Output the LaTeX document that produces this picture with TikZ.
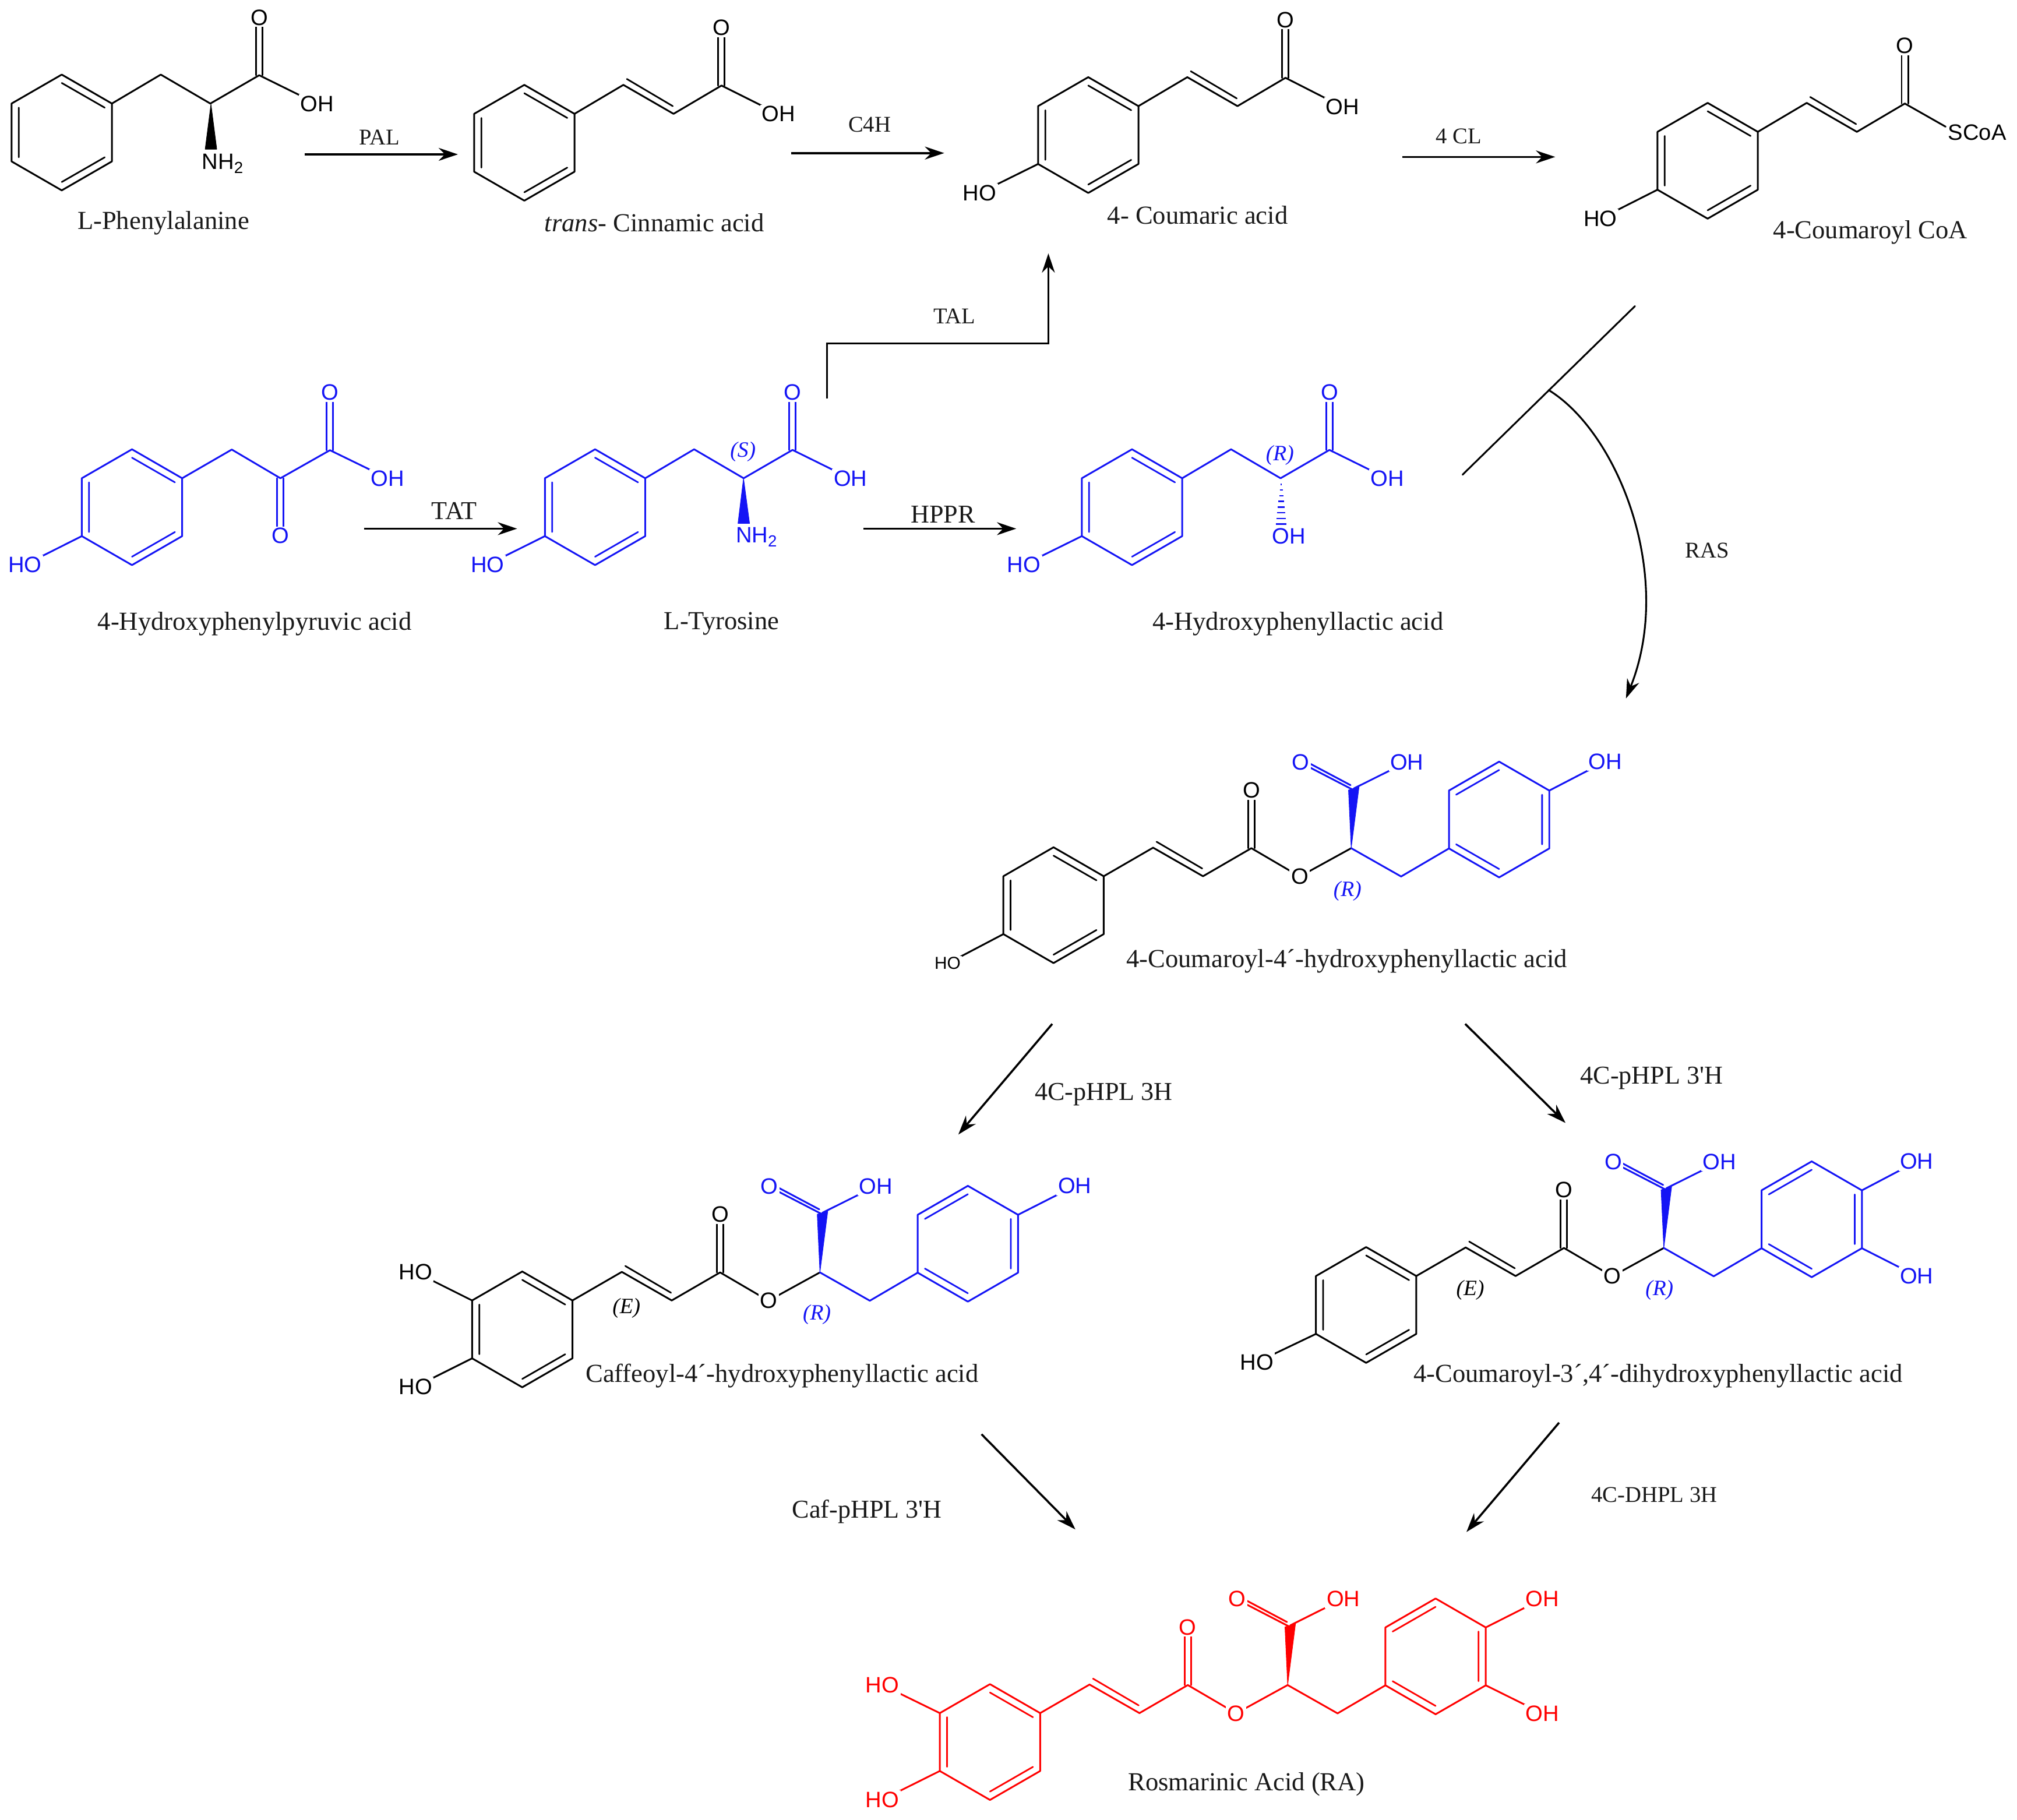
\documentclass[tikz,border=0pt]{standalone}
\usepackage{fontspec}
\setmainfont{Liberation Serif}
\newfontfamily\atomfont{Liberation Sans}
\usetikzlibrary{arrows.meta}
\definecolor{mblue}{RGB}{20,20,245}
\definecolor{mred}{RGB}{255,0,0}
\tikzset{
  bond/.style={line width=1.35pt,line cap=round,line join=round},
  wedgefill/.style={line width=0.4pt,line join=round},
  atom/.style={font=\atomfont\fontsize{17.3}{20}\selectfont,inner sep=1.2pt,fill=white},
  lab/.style={font=\fontsize{20.2}{24}\selectfont,inner sep=0pt,text=black!90,yshift=-1.8pt},
  enz/.style={font=\fontsize{17.5}{20}\selectfont,inner sep=0pt,text=black!90},
  enzb/.style={font=\fontsize{20}{24}\selectfont,inner sep=0pt,text=black!90},
  stereo/.style={font=\itshape\fontsize{17}{19}\selectfont,inner sep=0pt},
  rxn/.style={line width=1.6pt,-{Stealth[length=15pt,width=10pt]}}
}
% benzene ring: centre, flip (1 or -1), colour
\newcommand\benz[4]{%
  \begin{scope}[shift={(#1,#2)},xscale=#3]
    \draw[bond,#4] (0,-45)--(39,-22.5)--(39,22.5)--(0,45)--(-39,22.5)--(-39,-22.5)--cycle;
    \draw[bond,line width=1.25pt,#4] (0,-38.5)--(33.4,-19.3) (-33.4,-19.3)--(-33.4,19.3) (33.4,19.3)--(0,38.5);
  \end{scope}}
% substituent: name, colour, from, to, text
\newcommand\subst[5]{\draw[bond,#2] #3 -- #4; \node[atom,text=#2] (#1) at #4 {#5};}
\newcommand\vdbl[5]{% name colour (x) (y C) (y O)
  \draw[bond,#2] (#3-2.5,#4)--(#3-2.5,#5) (#3+2.5,#4)--(#3+2.5,#5);
  \node[atom,text=#2] (#1) at (#3,#5) {O};}
% phenyl-CH2-CH-COOH
\newcommand\phechain[4]{%
  \benz{#2}{#3}{1}{#4}
  \begin{scope}[shift={(#2,#3)}]
    \draw[bond,#4] (39,-22.5)--(77,-45)--(115.5,-22.5)--(153.5,-44.5);
    \vdbl{#1O}{#4}{153.5}{-44.5}{-89.3}
    \subst{#1OH}{#4}{(153.5,-44.5)}{(198.5,-22.3)}{OH}
  \end{scope}}
% Ar-CH=CH-C(=O)
\newcommand\cinnchain[3]{%
  \benz{#2}{#3}{1}{black}
  \begin{scope}[shift={(#2,#3)}]
    \draw[bond] (39,-22.5)--(77,-45)--(116,-22.5)--(153.3,-44.5);
    \draw[bond,line width=1.25pt] (79.7,-49.6)--(115.4,-28.5);
    \vdbl{#1O}{black}{153.3}{-44.5}{-89.5}
  \end{scope}}
% depside skeleton: prefix, cx, cy, left colour, right colour
\newcommand\depside[5]{%
  \benz{#2}{#3}{1}{#4}
  \benz{#2+346.4}{#3-66.6}{-1}{#5}
  \begin{scope}[shift={(#2,#3)}]
    \draw[bond,#4] (39,-22.5)--(77.4,-44.7)--(116.2,-22.5)--(153.8,-44.3)--(191.4,-22.3)--(231.4,-44.3);
    \draw[bond,line width=1.25pt,#4] (80.1,-49.3)--(115.6,-28.5);
    \vdbl{#1O}{#4}{153.8}{-44.3}{-89.3}
    \node[atom,text=#4] (#1Oe) at (191.4,-22.3) {O};
    \draw[bond,#5] (231.4,-44.3)--(270.2,-22.3)--(307.4,-44.1);
    \fill[wedgefill,#5,draw=#5] (231.4,-44.3)--(229.3,-89.5)--(237.5,-92)--cycle;
    \draw[bond,#5] (230.9,-93.3)--(192.1,-113.9) (234.9,-88.6)--(196.1,-108.7);
    \node[atom,text=#5] (#1Oa) at (192.1,-111.3) {O};
    \subst{#1OH}{#5}{(233.4,-90.7)}{(274.7,-111.3)}{OH}
  \end{scope}}
\begin{document}
\begin{tikzpicture}[x=1pt,y=-1pt]
\useasboundingbox (0,0) rectangle (1568,1414.9);
\fill[white] (0,0) rectangle (1568,1414.9);

%% L-Phenylalanine
\phechain{phe}{48}{103}{black}
\fill[wedgefill,draw=black,black] (164,81)--(159.5,116)--(168.5,116)--cycle;
\node[atom] (pheN) at (173,127) {NH\raisebox{-0.35ex}{\fontsize{12.5}{14}\selectfont 2}};
\node[lab] (pheL) at (127,171.5) {L-Phenylalanine};

%% trans-cinnamic acid
\cinnchain{cin}{407.6}{111}
\subst{cinOH}{black}{(560.9,66.5)}{(605.3,88.7)}{OH}
\node[lab] (cinL) at (508.7,171.3) {\textit{trans}- Cinnamic acid};

%% 4-coumaric acid
\cinnchain{cou}{846}{105}
\subst{couOH}{black}{(999.3,60.5)}{(1043.5,83)}{OH}
\subst{couHO}{black}{(807,127.5)}{(761.5,150)}{HO}
\node[lab] (couL) at (931,165.5) {4- Coumaric acid};

%% 4-coumaroyl CoA
\cinnchain{coa}{1327.5}{125}
\draw[bond] (1480.8,80.5)--(1512.5,98.5);
\node[atom,fill=none] (coaS) at (1537,103) {SCoA};
\subst{coaHO}{black}{(1288.5,147.5)}{(1244,170)}{HO}
\node[lab] (coaL) at (1454,179) {4-Coumaroyl CoA};

%% 4-hydroxyphenylpyruvic acid
\benz{102.6}{394.3}{1}{mblue}
\draw[bond,mblue] (141.6,371.8)--(180.2,349.5)--(218,371.8)--(256.5,350);
\vdbl{hppOa}{mblue}{256.5}{350}{305}
\vdbl{hppOk}{mblue}{218}{371.8}{416.6}
\subst{hppOH}{mblue}{(256.5,350)}{(301.3,371.8)}{OH}
\subst{hppHO}{mblue}{(63.6,416.8)}{(19.4,439)}{HO}
\node[lab] (hppL) at (198,483) {4-Hydroxyphenylpyruvic acid};

%% L-tyrosine
\phechain{tyr}{462.6}{394.3}{mblue}
\fill[wedgefill,draw=mblue,mblue] (578,371.8)--(573.7,406.9)--(582.7,406.9)--cycle;
\node[atom,text=mblue] (tyrN) at (588,417.4) {NH\raisebox{-0.35ex}{\fontsize{12.5}{14}\selectfont 2}};
\subst{tyrHO}{mblue}{(423.6,416.8)}{(379,439)}{HO}
\node[stereo,text=mblue] (tyrS) at (577.6,351) {(S)};
\node[lab] (tyrL) at (561,483) {L-Tyrosine};

%% 4-hydroxyphenyllactic acid
\phechain{hpl}{880}{394.3}{mblue}
\foreach \i in {0,...,7}
  \draw[line width=1.05pt,mblue] (996-0.6-0.5*\i,376.6+4.4*\i)--(996+0.6+0.5*\i,376.6+4.4*\i);
\node[atom,text=mblue,fill=none] (hplOHb) at (1002,417) {OH};
\subst{hplHO}{mblue}{(841,416.8)}{(796,439)}{HO}
\node[stereo,text=mblue] (hplR) at (995,354) {(R)};
\node[lab] (hplL) at (1009,483) {4-Hydroxyphenyllactic acid};

%% 4-coumaroyl-4'-hydroxyphenyllactic acid
\depside{d}{819}{703.7}{black}{mblue}
\subst{dHO}{black}{(780,726.2)}{(736.6,749)}{\fontsize{13.5}{15}\selectfont HO}
\subst{dOHr}{mblue}{(1204.4,614.6)}{(1248,592)}{OH}
\node[stereo,text=mblue] (dR) at (1047.5,692.5) {(R)};
\node[lab] (dL) at (1047,745.5) {4-Coumaroyl-4´-hydroxyphenyllactic acid};

%% caffeoyl-4'-hydroxyphenyllactic acid
\depside{e}{406}{1033.5}{black}{mblue}
\subst{eHOa}{black}{(367,1011)}{(323,989)}{HO}
\subst{eHOb}{black}{(367,1056)}{(323,1078)}{HO}
\subst{eOHr}{mblue}{(791.4,944.4)}{(835.5,922)}{OH}
\node[stereo] (eE) at (487,1017) {(E)};
\node[stereo,text=mblue] (eR) at (635,1022) {(R)};
\node[lab] (eL) at (608,1068) {Caffeoyl-4´-hydroxyphenyllactic acid};

%% 4-coumaroyl-3',4'-dihydroxyphenyllactic acid
\depside{f}{1062}{1014.5}{black}{mblue}
\subst{fHO}{black}{(1023,1037)}{(977,1059)}{HO}
\subst{fOHa}{mblue}{(1447.4,925.4)}{(1490,903)}{OH}
\subst{fOHb}{mblue}{(1447.4,970.4)}{(1490,992)}{OH}
\node[stereo] (fE) at (1143,1003) {(E)};
\node[stereo,text=mblue] (fR) at (1290,1003) {(R)};
\node[lab] (fL) at (1289,1068) {4-Coumaroyl-3´,4´-dihydroxyphenyllactic acid};

%% rosmarinic acid
\depside{g}{769.6}{1354.3}{mred}{mred}
\subst{gHOa}{mred}{(730.6,1331.8)}{(686,1310)}{HO}
\subst{gHOb}{mred}{(730.6,1376.8)}{(686,1399)}{HO}
\subst{gOHa}{mred}{(1155,1265.2)}{(1199,1243)}{OH}
\subst{gOHb}{mred}{(1155,1310.2)}{(1199,1332)}{OH}
\node[lab] (gL) at (969,1385.5) {Rosmarinic Acid (RA)};

%% reaction arrows
\coordinate (a1s) at (237,120); \coordinate (a1e) at (356,120);
\coordinate (a2s) at (615,119); \coordinate (a2e) at (734,119);
\coordinate (a3s) at (1090,122); \coordinate (a3e) at (1209,122);
\coordinate (a4s) at (283,411); \coordinate (a4e) at (402,411);
\coordinate (a5s) at (671,411); \coordinate (a5e) at (790,411);
\coordinate (a6s) at (643,310); \coordinate (a6m) at (643,267); \coordinate (a6n) at (815,267); \coordinate (a6e) at (815,197);
\coordinate (a7a) at (1137,369); \coordinate (a7b) at (1271,238); \coordinate (a7s) at (1203.5,303); \coordinate (a7e) at (1264,543);
\coordinate (a8s) at (818,796); \coordinate (a8e) at (745,882);
\coordinate (a9s) at (1139,796); \coordinate (a9e) at (1217,873);
\coordinate (a10s) at (763,1115); \coordinate (a10e) at (836,1189);
\coordinate (a11s) at (1212,1106); \coordinate (a11e) at (1140,1191);

\draw[rxn] (a1s)--(a1e);
\draw[rxn] (a2s)--(a2e);
\draw[rxn] (a3s)--(a3e);
\draw[rxn] (a4s)--(a4e);
\draw[rxn] (a5s)--(a5e);
\draw[rxn,line width=1.4pt] (a6s)--(a6m)--(a6n)--(a6e);
\draw[bond] (a7a)--(a7b);
\draw[rxn,line width=1.4pt] (a7s) .. controls (1258,336) and (1302,448) .. (a7e);
\draw[rxn] (a8s)--(a8e);
\draw[rxn] (a9s)--(a9e);
\draw[rxn] (a10s)--(a10e);
\draw[rxn] (a11s)--(a11e);

\node[enz] (tPAL) at (295,107) {PAL};
\node[enz] (tC4H) at (676,97) {C4H};
\node[enz] (tCL) at (1134,106) {4 CL};
\node[enz] (tTAL) at (742,246) {TAL};
\node[enzb] (tTAT) at (353,397) {TAT};
\node[enzb] (tHPPR) at (733,400) {HPPR};
\node[enz] (tRAS) at (1327,428) {RAS};
\node[enzb] (tH3) at (858,851) {4C-pHPL 3H};
\node[enzb] (tH3p) at (1284,838) {4C-pHPL 3\textquotesingle H};
\node[enzb] (tCaf) at (674,1175) {Caf-pHPL 3\textquotesingle H};
\node[enz] (tDH) at (1286,1162) {4C-DHPL 3H};
\end{tikzpicture}
\end{document}
